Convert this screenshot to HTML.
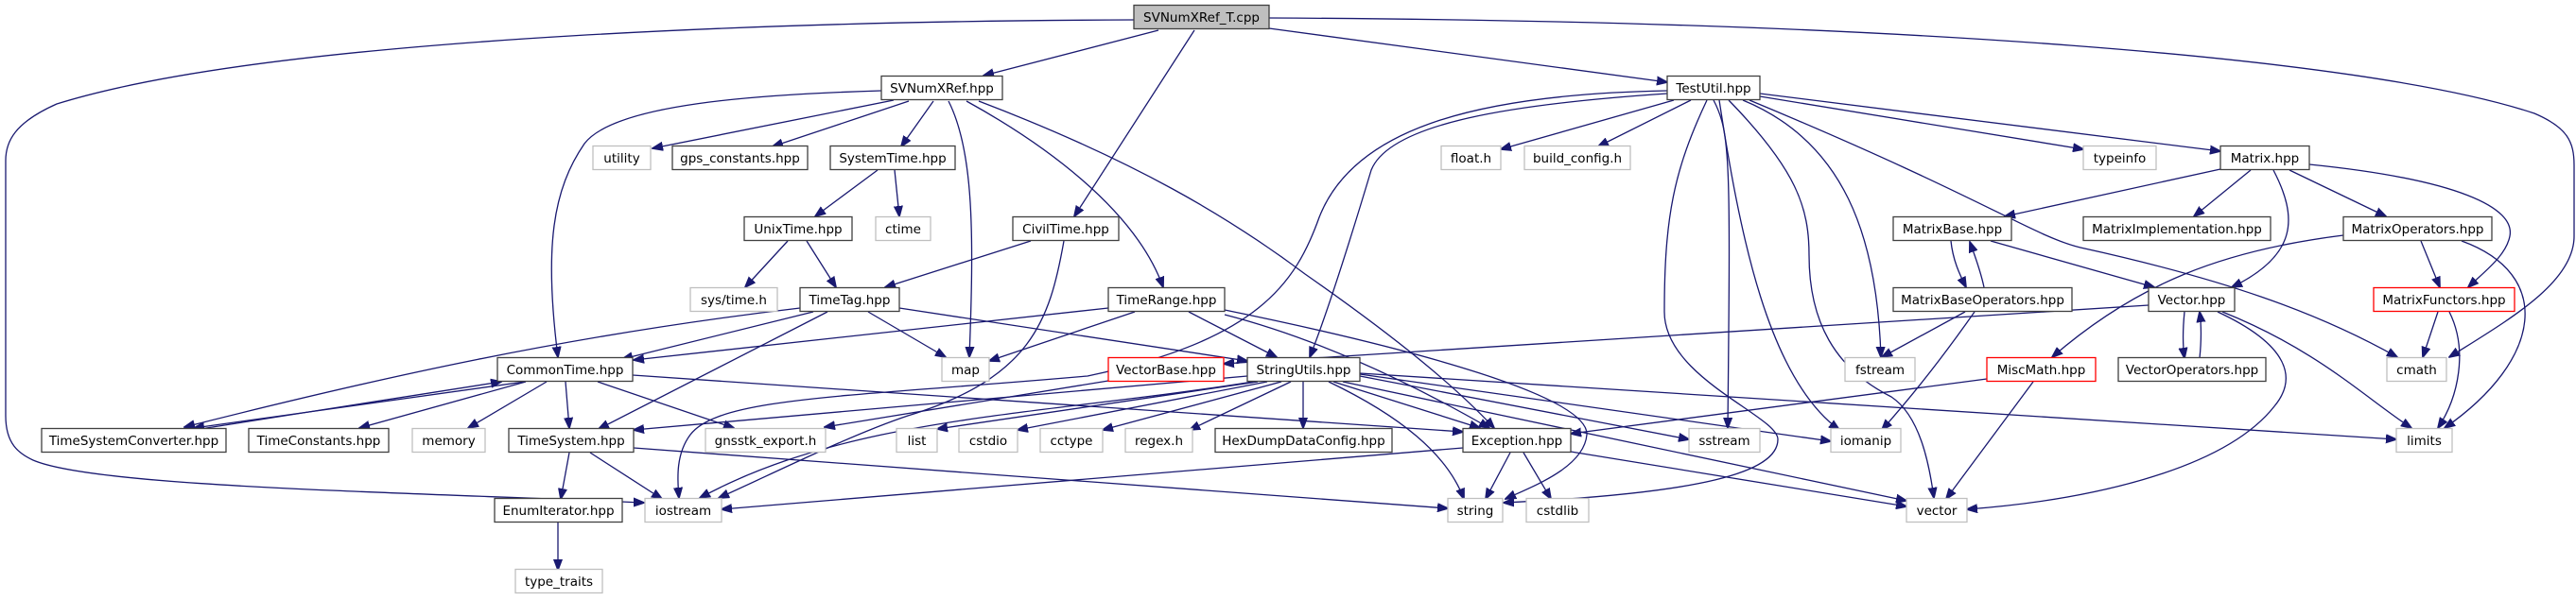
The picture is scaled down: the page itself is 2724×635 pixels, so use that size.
<!DOCTYPE html>
<html><head><meta charset="utf-8"><style>
html,body{margin:0;padding:0;background:#fff;}
svg{display:block;}
text{font-family:"DejaVu Sans","Liberation Sans",sans-serif;font-size:13.5px;fill:#000;text-anchor:middle;}
.e{fill:none;stroke:#191970;stroke-width:1.3;}
</style></head><body>
<svg width="2724" height="635" viewBox="0 0 2724 635" xmlns="http://www.w3.org/2000/svg">
<defs>
<marker id="a" markerWidth="12" markerHeight="10" refX="11" refY="5" orient="auto" markerUnits="userSpaceOnUse">
<path d="M0,0.5 L12,5 L0,9.5 Z" fill="#191970" stroke="#191970"/>
</marker>
</defs>
<g marker-end="url(#a)">
<path class="e" d="M1199,21 C900,22 300,35 60,110 C15,130 6,150 6,170 L6,440 C6,470 20,480 35,487 C100,515 400,520 681,532"/>
<path class="e" d="M1225,32 L1040,80"/>
<path class="e" d="M1263,32 L1136,229"/>
<path class="e" d="M1342,30 L1763,87"/>
<path class="e" d="M1342,19 C2000,22 2500,60 2680,120 C2715,135 2722,150 2722,175 L2722,250 C2722,300 2650,340 2590,378"/>
<path class="e" d="M945,106 L690,157"/>
<path class="e" d="M932,96 C800,100 650,110 618,152 C585,200 575,260 590,378"/>
<path class="e" d="M961,107 L817,155"/>
<path class="e" d="M987,107 L953,155"/>
<path class="e" d="M1003,107 C1030,160 1030,250 1025,378"/>
<path class="e" d="M1022,107 C1100,150 1200,220 1230,304"/>
<path class="e" d="M1035,107 C1200,170 1300,230 1380,290 C1480,360 1540,410 1580,453"/>
<path class="e" d="M928,180 L862,229"/>
<path class="e" d="M946,180 L951,229"/>
<path class="e" d="M833,255 L788,304"/>
<path class="e" d="M853,255 L884,304"/>
<path class="e" d="M1090,255 L936,304"/>
<path class="e" d="M1125,255 C1110,340 1090,400 960,440 C900,460 820,500 760,527"/>
<path class="e" d="M846,326 C600,355 400,400 195,452"/>
<path class="e" d="M860,330 L658,380"/>
<path class="e" d="M875,330 L633,454"/>
<path class="e" d="M918,330 L1000,378"/>
<path class="e" d="M951,326 L1319,382"/>
<path class="e" d="M1172,326 L670,381"/>
<path class="e" d="M1200,330 L1046,382"/>
<path class="e" d="M1257,330 L1350,378"/>
<path class="e" d="M1295,333 C1400,360 1500,410 1575,453"/>
<path class="e" d="M1295,328 C1500,370 1680,420 1678,460 C1675,495 1620,515 1592,528"/>
<path class="e" d="M555,404 L205,453"/>
<path class="e" d="M212,454 L530,404"/>
<path class="e" d="M556,404 L380,453"/>
<path class="e" d="M578,404 L495,453"/>
<path class="e" d="M598,404 L602,453"/>
<path class="e" d="M632,404 L776,453"/>
<path class="e" d="M669,397 C1000,420 1300,440 1547,457"/>
<path class="e" d="M1172,403 L872,452"/>
<path class="e" d="M1319,398 L670,455"/>
<path class="e" d="M1325,404 C1100,440 900,440 740,527"/>
<path class="e" d="M1330,404 L991,454"/>
<path class="e" d="M1340,404 L1076,455"/>
<path class="e" d="M1355,404 L1166,455"/>
<path class="e" d="M1365,404 L1258,455"/>
<path class="e" d="M1378,404 L1378,453"/>
<path class="e" d="M1410,404 L1565,453"/>
<path class="e" d="M1405,404 C1480,440 1530,480 1548,528"/>
<path class="e" d="M1438,398 L1786,465"/>
<path class="e" d="M1438,396 L1936,467"/>
<path class="e" d="M1420,404 L2016,530"/>
<path class="e" d="M1438,395 L2534,465"/>
<path class="e" d="M602,479 L593,528"/>
<path class="e" d="M624,479 L700,528"/>
<path class="e" d="M670,474 L1531,538"/>
<path class="e" d="M590,553 L590,603"/>
<path class="e" d="M1547,474 L763,539"/>
<path class="e" d="M1597,479 L1571,528"/>
<path class="e" d="M1611,479 L1640,528"/>
<path class="e" d="M1661,478 L2016,536"/>
<path class="e" d="M1770,106 L1587,158"/>
<path class="e" d="M1788,106 L1690,155"/>
<path class="e" d="M1763,99 C1600,110 1470,130 1450,180 C1420,280 1400,340 1385,378"/>
<path class="e" d="M1763,96 C1550,100 1430,140 1395,230 C1370,300 1330,360 1150,398 C900,420 760,420 730,460 C715,480 716,505 718,527"/>
<path class="e" d="M1805,106 C1770,180 1760,230 1760,330 C1760,400 1880,440 1880,465 C1880,500 1800,522 1590,532"/>
<path class="e" d="M1812,106 C1830,140 1830,170 1827,453"/>
<path class="e" d="M1818,106 C1840,250 1870,400 1945,455"/>
<path class="e" d="M1828,106 C1900,180 1913,220 1913,270 C1913,340 1940,390 2000,420 C2030,440 2040,490 2045,527"/>
<path class="e" d="M1843,106 C1950,150 1985,250 1989,378"/>
<path class="e" d="M1850,106 C2100,210 2150,250 2200,262 C2350,295 2450,330 2535,378"/>
<path class="e" d="M1861,102 L2203,158"/>
<path class="e" d="M1861,99 L2348,160"/>
<path class="e" d="M2348,179 L2120,229"/>
<path class="e" d="M2380,180 L2320,229"/>
<path class="e" d="M2404,180 C2430,230 2430,270 2360,304"/>
<path class="e" d="M2421,180 L2523,229"/>
<path class="e" d="M2442,174 C2600,190 2660,220 2654,250 C2650,270 2630,285 2610,304"/>
<path class="e" d="M2063,255 C2065,275 2072,290 2079,304"/>
<path class="e" d="M2098,304 C2094,285 2088,270 2083,256"/>
<path class="e" d="M2105,255 L2278,304"/>
<path class="e" d="M2078,330 L1990,378"/>
<path class="e" d="M2088,330 C2060,370 2030,410 1990,455"/>
<path class="e" d="M2478,249 C2350,265 2260,300 2170,378"/>
<path class="e" d="M2560,255 L2580,304"/>
<path class="e" d="M2603,255 C2700,290 2690,380 2585,453"/>
<path class="e" d="M2578,330 L2562,378"/>
<path class="e" d="M2590,330 C2610,370 2600,420 2578,453"/>
<path class="e" d="M2272,323 L1294,385"/>
<path class="e" d="M2310,330 C2308,350 2308,365 2310,379"/>
<path class="e" d="M2326,379 C2328,360 2328,345 2326,330"/>
<path class="e" d="M2350,330 C2450,370 2500,420 2550,453"/>
<path class="e" d="M2345,330 C2420,365 2430,400 2405,430 C2350,500 2200,530 2080,539"/>
<path class="e" d="M2101,401 L1661,459"/>
<path class="e" d="M2150,404 L2058,528"/>
</g>

<g stroke-width="1.3">
<rect x="1199" y="5.5" width="143" height="25" fill="#bfbfbf" stroke="#404040"/><text x="1270.5" y="23">SVNumXRef_T.cpp</text>
<rect x="932" y="80.5" width="128" height="25" fill="#fff" stroke="#404040"/><text x="996" y="98">SVNumXRef.hpp</text>
<rect x="1763" y="80.5" width="98" height="25" fill="#fff" stroke="#404040"/><text x="1812" y="98">TestUtil.hpp</text>
<rect x="627" y="154.5" width="61" height="25" fill="#fff" stroke="#bfbfbf"/><text x="657.5" y="172">utility</text>
<rect x="711" y="154.5" width="143" height="25" fill="#fff" stroke="#404040"/><text x="782.5" y="172">gps_constants.hpp</text>
<rect x="878" y="154.5" width="132" height="25" fill="#fff" stroke="#404040"/><text x="944" y="172">SystemTime.hpp</text>
<rect x="1524" y="154.5" width="63" height="25" fill="#fff" stroke="#bfbfbf"/><text x="1555.5" y="172">float.h</text>
<rect x="1612" y="154.5" width="112" height="25" fill="#fff" stroke="#bfbfbf"/><text x="1668" y="172">build_config.h</text>
<rect x="2203" y="154.5" width="77" height="25" fill="#fff" stroke="#bfbfbf"/><text x="2241.5" y="172">typeinfo</text>
<rect x="2348" y="154.5" width="94" height="25" fill="#fff" stroke="#404040"/><text x="2395" y="172">Matrix.hpp</text>
<rect x="787" y="229.5" width="114" height="25" fill="#fff" stroke="#404040"/><text x="844" y="247">UnixTime.hpp</text>
<rect x="926" y="229.5" width="58" height="25" fill="#fff" stroke="#bfbfbf"/><text x="955" y="247">ctime</text>
<rect x="1071" y="229.5" width="112" height="25" fill="#fff" stroke="#404040"/><text x="1127" y="247">CivilTime.hpp</text>
<rect x="2002" y="229.5" width="125" height="25" fill="#fff" stroke="#404040"/><text x="2064.5" y="247">MatrixBase.hpp</text>
<rect x="2203" y="229.5" width="198" height="25" fill="#fff" stroke="#404040"/><text x="2302" y="247">MatrixImplementation.hpp</text>
<rect x="2478" y="229.5" width="157" height="25" fill="#fff" stroke="#404040"/><text x="2556.5" y="247">MatrixOperators.hpp</text>
<rect x="730" y="304.5" width="92" height="25" fill="#fff" stroke="#bfbfbf"/><text x="776" y="322">sys/time.h</text>
<rect x="846" y="304.5" width="105" height="25" fill="#fff" stroke="#404040"/><text x="898.5" y="322">TimeTag.hpp</text>
<rect x="1172" y="304.5" width="123" height="25" fill="#fff" stroke="#404040"/><text x="1233.5" y="322">TimeRange.hpp</text>
<rect x="2002" y="304.5" width="189" height="25" fill="#fff" stroke="#404040"/><text x="2096.5" y="322">MatrixBaseOperators.hpp</text>
<rect x="2272" y="304.5" width="91" height="25" fill="#fff" stroke="#404040"/><text x="2317.5" y="322">Vector.hpp</text>
<rect x="2510" y="304.5" width="149" height="25" fill="#fff" stroke="#ff0000"/><text x="2584.5" y="322">MatrixFunctors.hpp</text>
<rect x="526" y="378.5" width="143" height="25" fill="#fff" stroke="#404040"/><text x="597.5" y="396">CommonTime.hpp</text>
<rect x="996" y="378.5" width="50" height="25" fill="#fff" stroke="#bfbfbf"/><text x="1021" y="396">map</text>
<rect x="1172" y="378.5" width="122" height="25" fill="#fff" stroke="#ff0000"/><text x="1233" y="396">VectorBase.hpp</text>
<rect x="1319" y="378.5" width="119" height="25" fill="#fff" stroke="#404040"/><text x="1378.5" y="396">StringUtils.hpp</text>
<rect x="1951" y="378.5" width="74" height="25" fill="#fff" stroke="#bfbfbf"/><text x="1988" y="396">fstream</text>
<rect x="2101" y="378.5" width="115" height="25" fill="#fff" stroke="#ff0000"/><text x="2158.5" y="396">MiscMath.hpp</text>
<rect x="2240" y="378.5" width="156" height="25" fill="#fff" stroke="#404040"/><text x="2318" y="396">VectorOperators.hpp</text>
<rect x="2524" y="378.5" width="63" height="25" fill="#fff" stroke="#bfbfbf"/><text x="2555.5" y="396">cmath</text>
<rect x="44" y="453.5" width="195" height="25" fill="#fff" stroke="#404040"/><text x="141.5" y="471">TimeSystemConverter.hpp</text>
<rect x="263" y="453.5" width="148" height="25" fill="#fff" stroke="#404040"/><text x="337" y="471">TimeConstants.hpp</text>
<rect x="436" y="453.5" width="77" height="25" fill="#fff" stroke="#bfbfbf"/><text x="474.5" y="471">memory</text>
<rect x="538" y="453.5" width="132" height="25" fill="#fff" stroke="#404040"/><text x="604" y="471">TimeSystem.hpp</text>
<rect x="746" y="453.5" width="127" height="25" fill="#fff" stroke="#bfbfbf"/><text x="809.5" y="471">gnsstk_export.h</text>
<rect x="948" y="453.5" width="43" height="25" fill="#fff" stroke="#bfbfbf"/><text x="969.5" y="471">list</text>
<rect x="1014" y="453.5" width="62" height="25" fill="#fff" stroke="#bfbfbf"/><text x="1045" y="471">cstdio</text>
<rect x="1100" y="453.5" width="66" height="25" fill="#fff" stroke="#bfbfbf"/><text x="1133" y="471">cctype</text>
<rect x="1190" y="453.5" width="71" height="25" fill="#fff" stroke="#bfbfbf"/><text x="1225.5" y="471">regex.h</text>
<rect x="1285" y="453.5" width="187" height="25" fill="#fff" stroke="#404040"/><text x="1378.5" y="471">HexDumpDataConfig.hpp</text>
<rect x="1547" y="453.5" width="114" height="25" fill="#fff" stroke="#404040"/><text x="1604" y="471">Exception.hpp</text>
<rect x="1786" y="453.5" width="75" height="25" fill="#fff" stroke="#bfbfbf"/><text x="1823.5" y="471">sstream</text>
<rect x="1936" y="453.5" width="74" height="25" fill="#fff" stroke="#bfbfbf"/><text x="1973" y="471">iomanip</text>
<rect x="2534" y="453.5" width="59" height="25" fill="#fff" stroke="#bfbfbf"/><text x="2563.5" y="471">limits</text>
<rect x="523" y="527.5" width="135" height="25" fill="#fff" stroke="#404040"/><text x="590.5" y="545">EnumIterator.hpp</text>
<rect x="682" y="527.5" width="81" height="25" fill="#fff" stroke="#bfbfbf"/><text x="722.5" y="545">iostream</text>
<rect x="1531" y="527.5" width="58" height="25" fill="#fff" stroke="#bfbfbf"/><text x="1560" y="545">string</text>
<rect x="1614" y="527.5" width="66" height="25" fill="#fff" stroke="#bfbfbf"/><text x="1647" y="545">cstdlib</text>
<rect x="2016" y="527.5" width="64" height="25" fill="#fff" stroke="#bfbfbf"/><text x="2048" y="545">vector</text>
<rect x="545" y="602.5" width="92" height="25" fill="#fff" stroke="#bfbfbf"/><text x="591" y="620">type_traits</text>
</g>
</svg>
</body></html>
